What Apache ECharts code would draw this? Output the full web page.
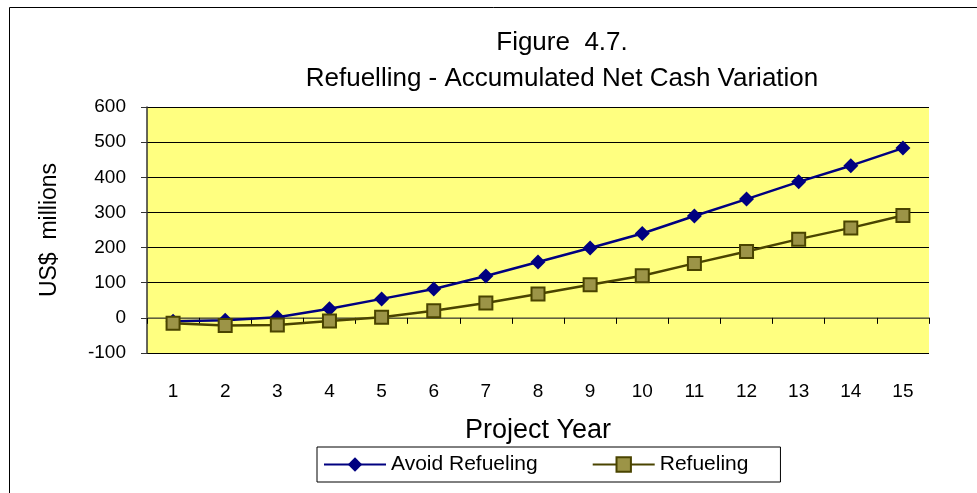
<!DOCTYPE html>
<html>
<head>
<meta charset="utf-8">
<script src="https://cdn.jsdelivr.net/npm/echarts@6/dist/echarts.min.js"></script>
<style>
  html, body { margin: 0; padding: 0; background: #fff; }
  #chart { width: 977px; height: 493px; }
</style>
</head>
<body>
<div id="chart"></div>
<script>
// data
const years = ['1', '2', '3', '4', '5', '6', '7', '8', '9', '10', '11', '12', '13', '14', '15']
const avoidRefueling = [-10, -7, 2, 26, 54, 82, 119, 159, 199, 240, 290, 338, 387, 433, 483]
const refueling = [-15, -22, -20, -9, 2, 20, 42, 68, 94, 120, 155, 189, 224, 256, 291]

const fontFamily = '"Liberation Sans", Arial, sans-serif'

const chart = echarts.init(document.getElementById('chart'))

const option = {
  animation: false,
  textStyle: { fontFamily: fontFamily },
  title: {
    text: 'Figure  4.7.\nRefuelling - Accumulated Net Cash Variation',
    left: 557,
    top: 20,
    textAlign: 'center',
    textStyle: {
      fontFamily: fontFamily,
      fontSize: 26,
      fontWeight: 'normal',
      color: '#000',
      lineHeight: 36
    }
  },
  graphic: [
    {
      type: 'rect',
      shape: { x: 9.5, y: 7.5, width: 1200, height: 600 },
      style: { fill: null, stroke: '#000', lineWidth: 1 },
      silent: true
    }
  ],
  legend: {
    left: 317,
    top: 447,
    padding: [7, 32, 7, 6],
    borderColor: '#000',
    borderWidth: 1,
    itemWidth: 62,
    itemHeight: 18,
    itemGap: 54,
    textStyle: { fontFamily: fontFamily, fontSize: 21, color: '#000' },
    data: ['Avoid Refueling', 'Refueling']
  },
  grid: {
    left: 147,
    right: 48,
    top: 107,
    bottom: 140,
    show: true,
    backgroundColor: '#FFFF80',
    borderWidth: 0
  },
  xAxis: [
    {
      type: 'category',
      data: years,
      boundaryGap: true,
      axisLine: { onZero: true, lineStyle: { color: '#808050', width: 1.5 } },
      axisTick: { show: true, length: 6, lineStyle: { color: '#000' } },
      axisLabel: { show: false },
      splitLine: { show: false }
    },
    {
      type: 'category',
      data: years,
      position: 'bottom',
      boundaryGap: true,
      axisLine: { show: false, onZero: false },
      axisTick: { show: false },
      axisLabel: { margin: 29, fontSize: 19, color: '#000', fontFamily: fontFamily },
      name: 'Project Year',
      nameLocation: 'middle',
      nameGap: 64,
      nameTextStyle: { fontSize: 27, color: '#000', fontFamily: fontFamily }
    }
  ],
  yAxis: {
    type: 'value',
    min: -100,
    max: 600,
    interval: 100,
    name: 'US$  millions',
    nameLocation: 'middle',
    nameGap: 86,
    nameTextStyle: { fontSize: 23, color: '#000', fontFamily: fontFamily },
    axisLine: { show: true, onZero: false, lineStyle: { color: '#333', width: 1.5 } },
    axisTick: { show: true, length: 6, lineStyle: { color: '#333' } },
    axisLabel: { margin: 21, fontSize: 19, color: '#000', fontFamily: fontFamily },
    splitLine: { show: true, lineStyle: { color: '#000', width: 1 } }
  },
  series: [
    {
      name: 'Avoid Refueling',
      type: 'line',
      xAxisIndex: 0,
      data: avoidRefueling,
      symbol: 'diamond',
      symbolSize: 15,
      lineStyle: { color: '#000080', width: 2.5 },
      itemStyle: { color: '#000080', borderColor: '#000080', borderWidth: 0 },
      z: 3
    },
    {
      name: 'Refueling',
      type: 'line',
      xAxisIndex: 0,
      data: refueling,
      symbol: 'rect',
      symbolSize: 13,
      lineStyle: { color: '#4A4400', width: 2.5 },
      itemStyle: { color: '#9C9447', borderColor: '#4A4400', borderWidth: 2 },
      z: 4
    }
  ]
}

chart.setOption(option)
</script>
</body>
</html>
